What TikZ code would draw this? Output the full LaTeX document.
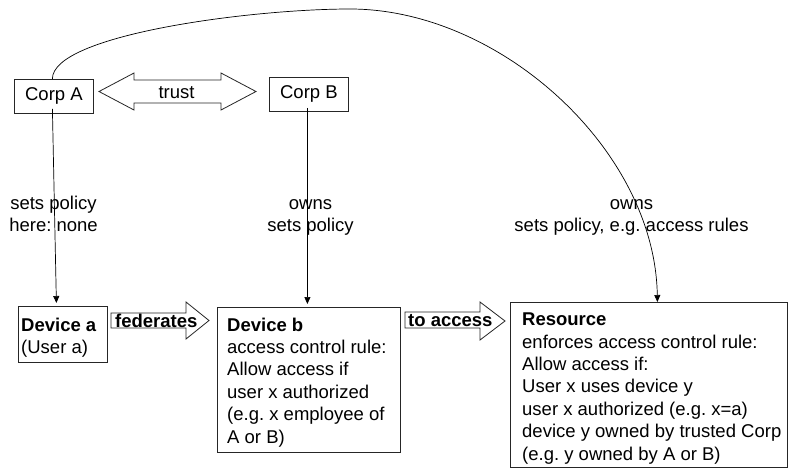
\documentclass[tikz,border=0pt]{standalone}
\usepackage{fontspec}
\setmainfont{Liberation Sans}
\usetikzlibrary{arrows.meta}
\frenchspacing

\begin{document}
\begin{tikzpicture}[x=1pt,y=-1pt,
  box/.style={draw=black!85, line width=0.8pt, fill=white, inner sep=0pt, anchor=north west},
  corpbox/.style={box, minimum width=79pt, minimum height=34pt,
    font=\fontsize{18.5}{22.4}\selectfont},
  txt/.style={inner sep=0pt, anchor=base west, font=\fontsize{18.5}{22.4}\selectfont},
  btxt/.style={txt, font=\fontsize{18.5}{22.4}\selectfont\bfseries},
  lbl/.style={inner sep=0pt, anchor=base, font=\fontsize{18.5}{22.2}\selectfont},
  blockarrow/.style={draw=black!85, line width=0.8pt, fill=white, line join=miter},
  conn/.style={draw=black, line width=0.7pt, -{Triangle[length=7pt,width=6pt]}}
]
\fill[white] (0,0) rectangle (791,469);
\useasboundingbox (0,0) rectangle (791,469);

% companies
\node[corpbox] (corpA) at (14,79) {Corp A};
\node[corpbox] (corpB) at (269,77) {Corp B};

% trust relation between the two companies
\draw[blockarrow] (99,91.5) -- (134,73) -- (134,80) -- (221,80) -- (221,73)
  -- (256,91.5) -- (221,110) -- (221,103) -- (134,103) -- (134,110) -- cycle;
\node[lbl] (trust) at (176.5,98.5) {trust};

% devices and resource
\node[box, minimum width=89pt, minimum height=56pt] (deva) at (18,306) {};
\node[txt] (devatext) at (21,331)
  {\parbox[t]{85pt}{\raggedright\textbf{Device a}\\(User a)}};

\node[box, minimum width=183pt, minimum height=145pt] (devb) at (217,307) {};
\node[txt] (devbtext) at (227,331)
  {\parbox[t]{200pt}{\raggedright\textbf{Device b}\\access control rule:\\Allow access if\\user x authorized\\(e.g. x employee of\\A or B)}};

\node[box, minimum width=277pt, minimum height=165pt] (res) at (510,302) {};
\node[txt] (restext) at (522,325.7)
  {\parbox[t]{300pt}{\raggedright\textbf{Resource}\\enforces access control rule:\\Allow access if:\\User x uses device y\\user x authorized (e.g. x=a)\\device y owned by trusted Corp\\(e.g. y owned by A or B)}};

% block arrows between the devices
\draw[blockarrow] (111,313) -- (186,313) -- (186,302) -- (209,320.5)
  -- (186,339) -- (186,328) -- (111,328) -- cycle;
\node[btxt] (fed) at (115,327) {federates};

\draw[blockarrow] (405,312) -- (480,312) -- (480,302) -- (505,321)
  -- (480,340) -- (480,328) -- (405,328) -- cycle;
\node[btxt] (toacc) at (408,326.7) {to access};

% policy connectors
\draw[conn] ([xshift=-1.5pt,yshift=5pt]corpA.south) -- ([xshift=-6.5pt,yshift=3pt]deva.north);
\draw[conn] ([xshift=-1.5pt,yshift=4pt]corpB.south) -- ([xshift=-1.5pt,yshift=3pt]devb.north);
\coordinate (peak) at (350,9);
\draw[conn] ([xshift=-1.5pt]corpA.north) .. controls (52,35) and (250,9) .. (peak)
  .. controls (500,9) and (655,150) .. ([xshift=8.5pt]res.north);

% connector labels
\node[lbl] (lblA) at (53.5,209) {\parbox[t]{100pt}{\centering sets policy\\here: none}};
\node[lbl] (lblB) at (310.5,209) {\parbox[t]{120pt}{\centering owns\\sets policy}};
\node[lbl] (lblR) at (631.5,209) {\parbox[t]{300pt}{\centering owns\\sets policy, e.g. access rules}};
\end{tikzpicture}
\end{document}
